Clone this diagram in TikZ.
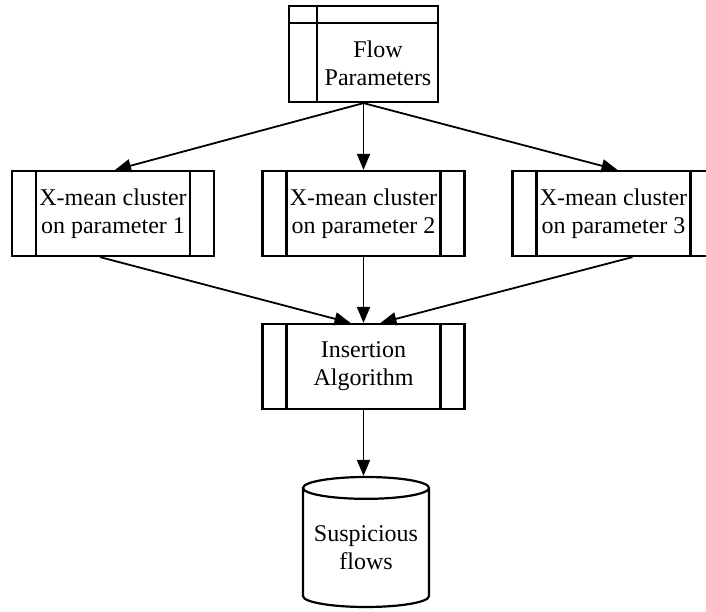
\documentclass[tikz,border=0pt]{standalone}
\usepackage{fontspec}
\setmainfont{Liberation Serif}
\usepackage{tikz}
\usetikzlibrary{arrows.meta,positioning,shapes.geometric}

\begin{document}
\begin{tikzpicture}[
  x=0.5pt, y=-0.5pt,
  font=\fontsize{12}{14}\selectfont,
  line width=1.1pt,
  >={Triangle[length=8pt,width=6.5pt]},
  % connector
  flow/.style={->, line width=0.9pt},
  % predefined process box (double side bars)
  proc/.style={draw, fill=white, align=center, inner sep=0pt,
               minimum width=101pt, minimum height=42.5pt,
               path picture={
                 \draw ([xshift=12pt]path picture bounding box.north west)
                    -- ([xshift=12pt]path picture bounding box.south west);
                 \draw ([xshift=-12pt]path picture bounding box.north east)
                    -- ([xshift=-12pt]path picture bounding box.south east);}},
  % internal storage
  store/.style={draw, fill=white, inner sep=0pt,
                minimum width=74.5pt, minimum height=48pt},
  storetext/.style={align=center, inner sep=0pt,
                    minimum width=60pt, minimum height=39pt},
  % data store
  dbase/.style={draw, cylinder, shape border rotate=90, aspect=0.21,
                align=center, inner sep=0pt,
                minimum width=63pt, minimum height=65pt},
]

% ── Frame ────────────────────────────────────────────────────────────────
\useasboundingbox (0,0) rectangle (706,611);

% ── Column X positions ───────────────────────────────────────────────────
\def\xA{113}     % parameter 1
\def\xB{363.5}   % parameter 2
\def\xC{613.5}   % parameter 3

% ── Input ────────────────────────────────────────────────────────────────
\node[store] (fp) at (\xB,54) {};
\node[storetext, anchor=south east] (fpt) at (fp.south east) {Flow\\Parameters};
\draw (fpt.south west) -- (fpt.south west |- fp.north);
\draw (fp.west |- fpt.north) -- (fpt.north east);

% ── Clustering ───────────────────────────────────────────────────────────
\node[proc] (c1) at (\xA,213.5) {X-mean cluster\\on parameter 1};
\node[proc] (c2) at (\xB,213.5) {X-mean cluster\\on parameter 2};
\node[proc] (c3) at (\xC,213.5) {X-mean cluster\\on parameter 3};

\draw[flow] (fp.south) -- ([xshift=1pt]c1.north);
\draw[flow] (fp.south) -- (c2.north);
\draw[flow] (fp.south) -- ([xshift=2pt]c3.north);

% ── Insertion ────────────────────────────────────────────────────────────
\node[proc] (ins) at (\xB,366.5) {Insertion\\Algorithm};

\draw[flow] ([xshift=-6.5pt]c1.south) -- ([xshift=-6.5pt]ins.north);
\draw[flow] (c2.south) -- (ins.north);
\draw[flow] ([xshift=9.5pt]c3.south) -- ([xshift=8.5pt]ins.north);

% ── Output ───────────────────────────────────────────────────────────────
\node[dbase] (sf) at (366,548) {Suspicious\\flows};
\draw[flow] (ins.south) -- (ins.south |- sf.north);

\end{tikzpicture}
\end{document}
